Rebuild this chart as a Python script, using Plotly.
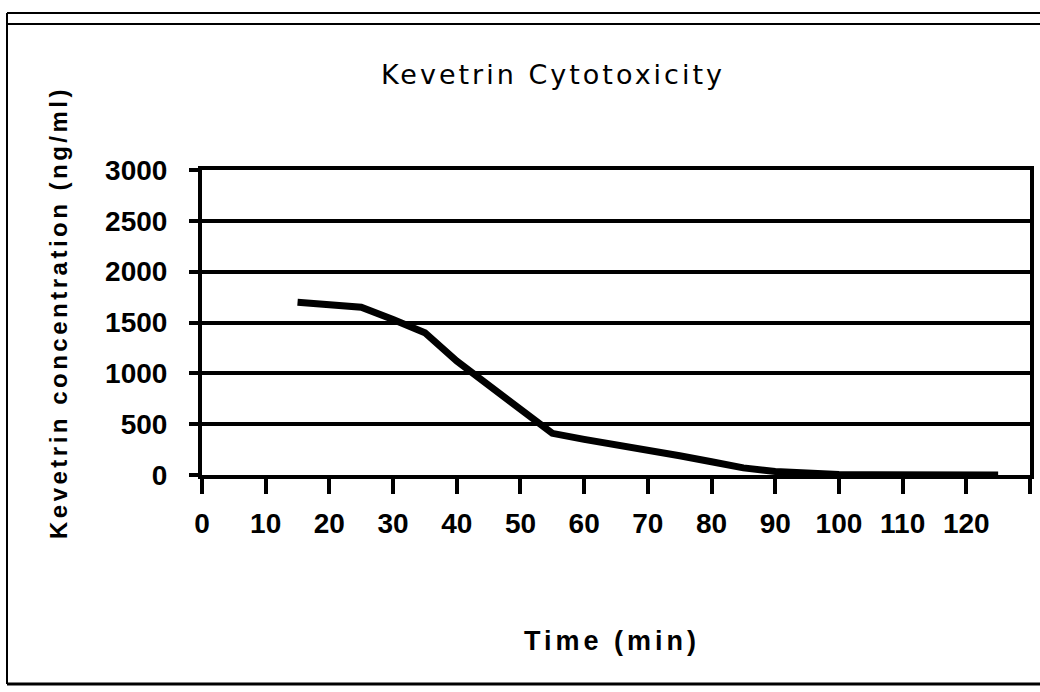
import plotly.graph_objects as go

time_min = [15, 20, 25, 30, 35, 40, 45, 50, 55, 60, 65, 70, 75, 80, 85, 90, 95, 100, 105, 110, 115, 120, 125]
concentration = [1700, 1680, 1650, 1530, 1400, 1120, 880, 640, 410, 350, 300, 240, 190, 130, 70, 35, 12, 5, 3, 2, 1, 1, 0]

x_tickvals = [0, 10, 20, 30, 40, 50, 60, 70, 80, 90, 100, 110, 120, 130]
x_ticktext = ["0", "10", "20", "30", "40", "50", "60", "70", "80", "90", "100", "110", "120", ""]
y_tickvals = [0, 500, 1000, 1500, 2000, 2500, 3000]

chart_title = "Kevetrin Cytotoxicity"
x_title = "Time (min)"
y_title = "Kevetrin concentration (ng/ml)"

L, R, T, B = 202, 10, 170, 217
W, H = 1040, 692
pw = W - L - R
ph = H - T - B

def px(x):
    return (x - L) / pw

def py(y):
    return (H - B - y) / ph

fig = go.Figure()
fig.add_trace(go.Scatter(
    x=time_min, y=concentration, mode="lines",
    line=dict(color="black", width=7), showlegend=False, hoverinfo="skip",
))

tick_font = dict(family="Liberation Sans, Arial, sans-serif", size=28, color="black", weight="bold")

fig.update_layout(
    width=W, height=H,
    margin=dict(l=L, r=R, t=T, b=B),
    paper_bgcolor="white", plot_bgcolor="white",
    title=dict(text='<span style="letter-spacing:3px">' + chart_title + '</span>',
               x=553 / W, xanchor="center", y=1 - 75 / H, yanchor="middle",
               font=dict(family="DejaVu Sans, sans-serif", size=27, color="black")),
    xaxis=dict(
        range=[0, 130], tickvals=x_tickvals, ticktext=x_ticktext,
        ticks="outside", ticklen=15, tickwidth=4, tickcolor="black",
        showline=True, linecolor="black", linewidth=4, mirror=True,
        showgrid=False, zeroline=False, tickfont=tick_font,
        ticklabelstandoff=5, automargin=False,
    ),
    yaxis=dict(
        range=[0, 3000], tickvals=y_tickvals,
        ticks="outside", ticklen=9, tickwidth=4, tickcolor="black",
        showline=True, linecolor="black", linewidth=4, mirror=True,
        showgrid=True, gridcolor="black", gridwidth=4, zeroline=False,
        tickfont=tick_font, ticklabelstandoff=16, automargin=False,
    ),
    annotations=[
        dict(text='<b><span style="letter-spacing:4px">' + x_title + '</span></b>',
             xref="paper", yref="paper", x=px(612), y=py(641),
             xanchor="center", yanchor="middle", showarrow=False,
             font=dict(family="Liberation Sans, Arial, sans-serif", size=27, color="black")),
        dict(text='<b><span style="letter-spacing:3.5px">' + y_title + '</span></b>',
             xref="paper", yref="paper", x=px(58), y=py(313),
             xanchor="center", yanchor="middle", showarrow=False, textangle=-90,
             font=dict(family="Liberation Sans, Arial, sans-serif", size=24, color="black")),
    ],
    shapes=[
        dict(type="line", xref="paper", yref="paper", x0=px(7), x1=px(7), y0=py(684), y1=py(13),
             line=dict(color="black", width=2)),
        dict(type="line", xref="paper", yref="paper", x0=px(7), x1=px(1040), y0=py(684), y1=py(684),
             line=dict(color="black", width=3)),
        dict(type="line", xref="paper", yref="paper", x0=px(7), x1=px(1040), y0=py(13), y1=py(13),
             line=dict(color="black", width=2)),
        dict(type="line", xref="paper", yref="paper", x0=px(7), x1=px(1040), y0=py(24), y1=py(24),
             line=dict(color="black", width=2)),
    ],
)

fig.write_html("out.html", config={"displayModeBar": False},
               post_script="document.body.style.margin='0px';document.body.style.overflow='hidden';")
